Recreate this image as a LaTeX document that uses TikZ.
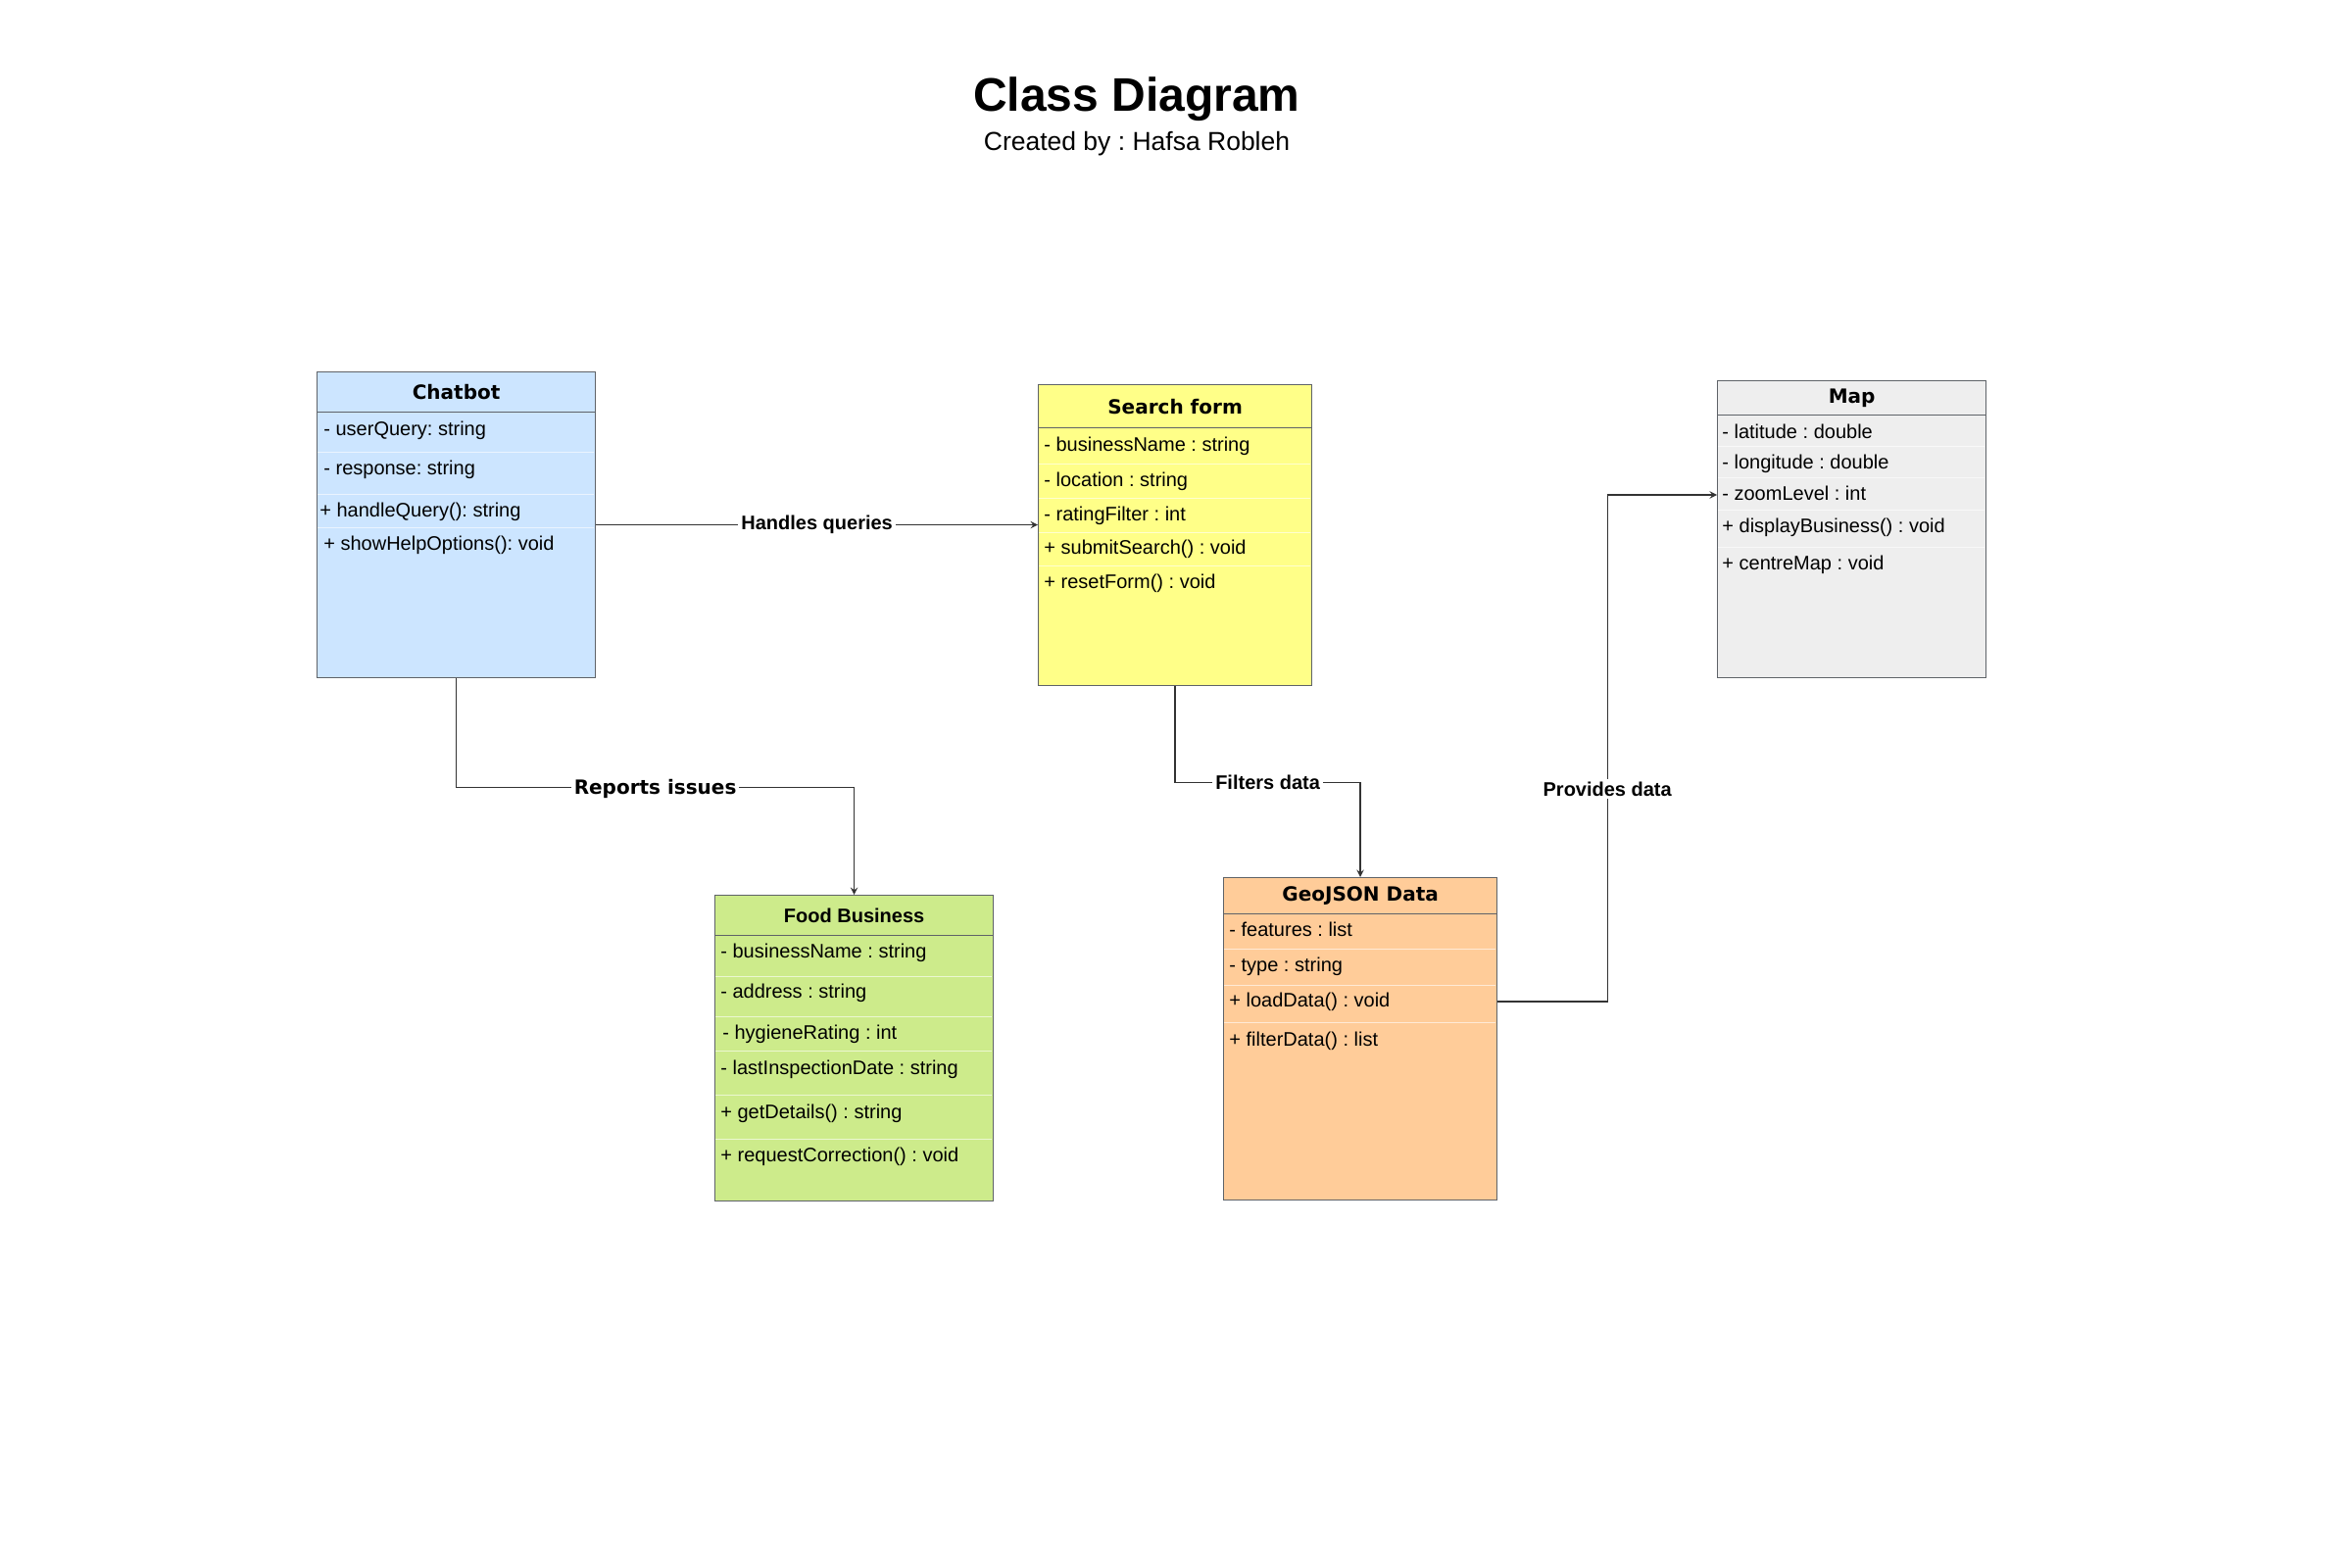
\documentclass[tikz,border=0pt]{standalone}
\usepackage{fontspec}
\setmainfont{Liberation Sans}
\newfontfamily\verdana{DejaVu Sans}
\usetikzlibrary{arrows}
\definecolor{chatfill}{HTML}{CCE5FF}
\definecolor{searchfill}{HTML}{FFFF88}
\definecolor{mapfill}{HTML}{EEEEEE}
\definecolor{foodfill}{HTML}{CDEB8B}
\definecolor{geofill}{HTML}{FFCC99}
\definecolor{boxline}{HTML}{5F6368}
\definecolor{linegrey}{HTML}{333333}
\tikzstyle{classbox} = [rectangle, anchor=north west, draw=boxline, line width=0.6pt, inner sep=0pt]
\tikzstyle{headbox} = [rectangle, anchor=north west, draw=boxline, line width=0.6pt, inner sep=0pt, font=\verdana\bfseries\fontsize{10}{12}\selectfont]
\tikzstyle{attr} = [anchor=west, inner sep=0pt, text height=7.5pt, text depth=2pt, font=\fontsize{10}{12}\selectfont]
\tikzstyle{sep} = [white, opacity=0.6, line width=0.5pt]
\tikzstyle{arrow} = [draw=linegrey, line width=0.65pt, ->, >=stealth]
\tikzstyle{lab} = [fill=white, inner sep=1.5pt, font=\bfseries\fontsize{10}{12}\selectfont]
\frenchspacing

\begin{document}
\begin{tikzpicture}[x=0.5pt, y=0.5pt]
\useasboundingbox (0,0) rectangle (2400,-1600);
\node (title) at (1160,-101) {\fontsize{24}{28}\selectfont\bfseries Class Diagram};
\node (author) at (1160,-147) {\fontsize{13.25}{16}\selectfont Created by : Hafsa Robleh};
% Chatbot
\node (chat) [classbox, fill=chatfill, minimum width=142pt, minimum height=156pt] at (323,-379) {};
\node (chathead) [headbox, fill=chatfill, minimum width=142pt, minimum height=20.5pt] at (chat.north west) {Chatbot};
\draw [sep] (324,-461) -- (606,-461) (324,-504) -- (606,-504) (324,-538) -- (606,-538);
\node (chat1) [attr] at (330,-439) {- userQuery: string};
\node (chat2) [attr] at (330,-479) {- response: string};
\node (chat3) [attr] at (326,-522) {+ handleQuery(): string};
\node (chat4) [attr] at (330,-556) {+ showHelpOptions(): void};
% Search form
\node (search) [classbox, fill=searchfill, minimum width=139.5pt, minimum height=153.5pt] at (1059,-392) {};
\node (searchhead) [headbox, fill=searchfill, minimum width=139.5pt, minimum height=22pt] at (search.north west) {Search form};
\draw [sep] (1060,-473) -- (1337,-473) (1060,-508) -- (1337,-508) (1060,-543) -- (1337,-543) (1060,-577) -- (1337,-577);
\node (search1) [attr] at (1065,-455) {- businessName : string};
\node (search2) [attr] at (1065,-491) {- location : string};
\node (search3) [attr] at (1065,-526) {- ratingFilter : int};
\node (search4) [attr] at (1065,-560) {+ submitSearch() : void};
\node (search5) [attr] at (1065,-595) {+ resetForm() : void};
% Map
\node (map) [classbox, fill=mapfill, minimum width=137pt, minimum height=151.5pt] at (1752,-388) {};
\node (maphead) [headbox, fill=mapfill, minimum width=137pt, minimum height=17.5pt] at (map.north west) {Map};
\draw [sep] (1753,-455) -- (2025,-455) (1753,-487) -- (2025,-487) (1753,-520) -- (2025,-520) (1753,-558) -- (2025,-558);
\node (map1) [attr] at (1757,-442) {- latitude : double};
\node (map2) [attr] at (1757,-473) {- longitude : double};
\node (map3) [attr] at (1757,-505) {- zoomLevel : int};
\node (map4) [attr] at (1757,-538) {+ displayBusiness() : void};
\node (map5) [attr] at (1757,-576) {+ centreMap : void};
% Food Business
\node (food) [classbox, fill=foodfill, minimum width=142pt, minimum height=156pt] at (729,-913) {};
\node (foodhead) [headbox, fill=foodfill, minimum width=142pt, minimum height=20.5pt, font=\bfseries\fontsize{10}{12}\selectfont] at (food.north west) {Food Business};
\draw [sep] (730,-996) -- (1012,-996) (730,-1037) -- (1012,-1037) (730,-1072) -- (1012,-1072) (730,-1117) -- (1012,-1117) (730,-1162) -- (1012,-1162);
\node (food1) [attr] at (735,-972) {- businessName : string};
\node (food2) [attr] at (735,-1013) {- address : string};
\node (food3) [attr] at (737,-1055) {- hygieneRating : int};
\node (food4) [attr] at (735,-1091) {- lastInspectionDate : string};
\node (food5) [attr] at (735,-1136) {+ getDetails() : string};
\node (food6) [attr] at (735,-1180) {+ requestCorrection() : void};
% GeoJSON Data
\node (geo) [classbox, fill=geofill, minimum width=139.5pt, minimum height=164.5pt] at (1248,-895) {};
\node (geohead) [headbox, fill=geofill, minimum width=139.5pt, minimum height=18.5pt] at (geo.north west) {GeoJSON Data};
\draw [sep] (1249,-968) -- (1526,-968) (1249,-1005) -- (1526,-1005) (1249,-1043) -- (1526,-1043);
\node (geo1) [attr] at (1254,-950) {- features : list};
\node (geo2) [attr] at (1254,-986) {- type : string};
\node (geo3) [attr] at (1254,-1022) {+ loadData() : void};
\node (geo4) [attr] at (1254,-1062) {+ filterData() : list};
% links
\draw [arrow] (chat.east) -- node[lab]{Handles queries} (chat.east -| search.west);
\draw [arrow] (chat.south) -- ++(0,-111) -| node[lab, pos=0.25, yshift=-1pt, font=\verdana\bfseries\fontsize{10}{12}\selectfont]{Reports issues} (food.north);
\draw [arrow] (search.south) -- ++(0,-98) -| node[lab, pos=0.25]{Filters data} (geo.north);
\draw [arrow] (geo.east |- geo3) -- ++(112,0) |- node[lab, pos=0.21]{Provides data} (map.west |- map3);
\end{tikzpicture}
\end{document}
